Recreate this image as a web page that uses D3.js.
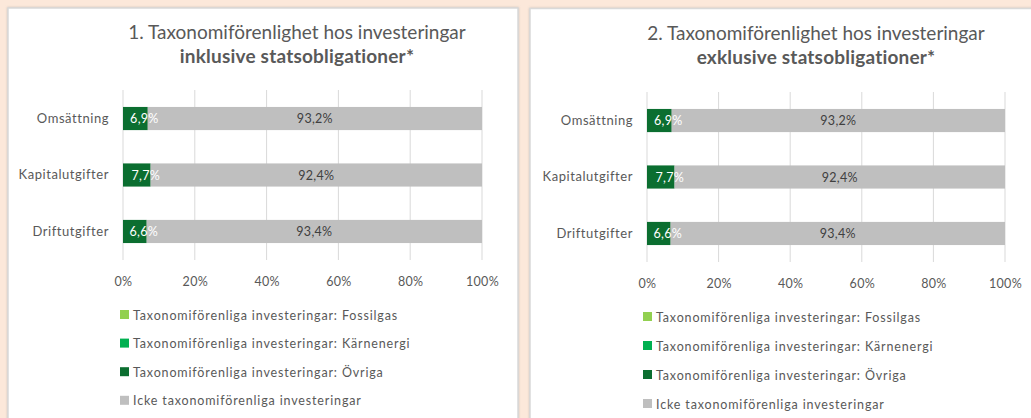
<!DOCTYPE html>
<html>
<head>
<meta charset="utf-8">
<script src="https://cdn.jsdelivr.net/npm/d3@7"></script>
<style>
  html, body { margin: 0; padding: 0; background: #fce8da; }
  svg { display: block; }
  text { font-family: Lato, "Open Sans", sans-serif; fill: #595959; font-variant-ligatures: none; }
</style>
</head>
<body>
<svg id="chart" width="1031" height="418"></svg>
<script>
// Categories and series (percent of investments)
const categories = ["Omsättning", "Kapitalutgifter", "Driftutgifter"];
const seriesNames = [
  "Taxonomiförenliga investeringar: Fossilgas",
  "Taxonomiförenliga investeringar: Kärnenergi",
  "Taxonomiförenliga investeringar: Övriga",
  "Icke taxonomiförenliga investeringar"
];
const seriesColors = ["#92d050", "#00b050", "#0b6e30", "#bfbfbf"];
const labelColors = ["#ffffff", "#ffffff", "#ffffff", "#404040"];

// Panel 1: including government bonds
const fossilgasIncl = [0, 0, 0];
const karnenergiIncl = [0, 0, 0];
const ovrigaIncl = [6.9, 7.7, 6.6];
const ickeIncl = [93.2, 92.4, 93.4];

// Panel 2: excluding government bonds
const fossilgasExcl = [0, 0, 0];
const karnenergiExcl = [0, 0, 0];
const ovrigaExcl = [6.9, 7.7, 6.6];
const ickeExcl = [93.2, 92.4, 93.4];

const xTicks = [0, 20, 40, 60, 80, 100];
const titlesIncl = ["1. Taxonomiförenlighet hos investeringar", "inklusive statsobligationer*"];
const titlesExcl = ["2. Taxonomiförenlighet hos investeringar", "exklusive statsobligationer*"];

const fmt = v => d3.format(".1f")(v).replace(".", ",") + "%";

const svg = d3.select("#chart");

// Drop shadow for the white panels
const defs = svg.append("defs");
const f = defs.append("filter").attr("id", "shadow").attr("x", "-5%").attr("y", "-5%").attr("width", "110%").attr("height", "110%");
f.append("feDropShadow").attr("dx", 0).attr("dy", 0).attr("stdDeviation", 1.2).attr("flood-color", "#999").attr("flood-opacity", 0.5);

function drawPanel(opt) {
  const g = svg.append("g");
  g.append("rect")
    .attr("x", opt.box[0]).attr("y", opt.box[1])
    .attr("width", opt.box[2]).attr("height", opt.box[3])
    .attr("fill", "#ffffff").attr("stroke", "#d9d9d9").attr("stroke-width", 1.5)
    .attr("filter", "url(#shadow)");

  // Title
  g.append("text").attr("x", opt.titleX).attr("y", opt.titleY)
    .attr("text-anchor", "middle").style("font-size", "19px")
    .text(opt.titles[0]);
  g.append("text").attr("x", opt.titleX).attr("y", opt.titleY + 24)
    .attr("text-anchor", "middle").style("font-size", "19px").style("font-weight", "bold")
    .style("letter-spacing", "0.2px")
    .text(opt.titles[1]);

  const x = d3.scaleLinear().domain([0, 100]).range([opt.left, opt.right]);
  const y = d3.scaleBand().domain(categories).range([opt.top, opt.bottom]).paddingInner(0.59).paddingOuter(0.3);

  // Vertical gridlines
  g.append("g").selectAll("line").data(xTicks).join("line")
    .attr("x1", d => x(d)).attr("x2", d => x(d))
    .attr("y1", opt.top).attr("y2", opt.bottom)
    .attr("stroke", "#d9d9d9").attr("stroke-width", 1);

  // X axis tick labels
  const xAxis = d3.axisBottom(x).tickValues(xTicks).tickSize(0).tickPadding(0).tickFormat(d => d + "%");
  const xg = g.append("g").attr("transform", `translate(0,${opt.bottom + 26})`).call(xAxis);
  xg.select(".domain").remove();
  xg.selectAll("text").style("font-size", "12.5px").attr("fill", "#595959").attr("dy", 0).style("letter-spacing", "0.3px");

  // Y axis category labels
  const yAxis = d3.axisLeft(y).tickSize(0).tickPadding(0);
  const yg = g.append("g").attr("transform", `translate(${opt.left - 14},0)`).call(yAxis);
  yg.select(".domain").remove();
  yg.selectAll("text").style("font-size", "13px").attr("fill", "#595959").style("letter-spacing", "0.55px");

  // Stacked segments
  const rows = categories.map((c, i) => {
    const vals = opt.series.map(s => s[i]);
    let acc = 0;
    return vals.map((v, k) => {
      const s = { cat: c, k, v, x0: acc, x1: Math.min(100, acc + v) };
      acc += v;
      return s;
    });
  }).flat();

  g.append("g").selectAll("rect").data(rows.filter(d => d.v > 0)).join("rect")
    .attr("x", d => x(d.x0)).attr("width", d => x(d.x1) - x(d.x0))
    .attr("y", d => y(d.cat)).attr("height", y.bandwidth())
    .attr("fill", d => seriesColors[d.k]);

  g.append("g").selectAll("text").data(rows.filter(d => d.v > 0)).join("text")
    .attr("x", d => (x(d.x0) + x(d.x1)) / 2 + (d.k < 3 ? 9 : 0))
    .attr("y", d => y(d.cat) + y.bandwidth() / 2 + 4.5)
    .attr("text-anchor", "middle")
    .style("font-size", "12.5px").style("letter-spacing", "0.3px")
    .style("fill", d => labelColors[d.k])
    .text(d => fmt(d.v));

  // Legend
  const lg = g.append("g");
  seriesNames.forEach((name, k) => {
    const ly = opt.legendY + k * opt.legendStep;
    lg.append("rect").attr("x", opt.legendX).attr("y", ly - 5).attr("width", 9).attr("height", 9)
      .attr("fill", seriesColors[k]);
    lg.append("text").attr("x", opt.legendX + 13).attr("y", ly + 4.5)
      .style("font-size", "12.5px").style("letter-spacing", "0.85px")
      .text(name);
  });
}

drawPanel({
  box: [8, 8, 510, 420],
  titles: titlesIncl, titleX: 297, titleY: 39,
  left: 123, right: 482, top: 90, bottom: 260,
  series: [fossilgasIncl, karnenergiIncl, ovrigaIncl, ickeIncl],
  legendX: 120, legendY: 315, legendStep: 28.6
});

drawPanel({
  box: [530, 8.5, 520, 420],
  titles: titlesExcl, titleX: 816, titleY: 40,
  left: 647, right: 1005, top: 92, bottom: 262,
  series: [fossilgasExcl, karnenergiExcl, ovrigaExcl, ickeExcl],
  legendX: 643, legendY: 317, legendStep: 29
});
</script>
</body>
</html>
